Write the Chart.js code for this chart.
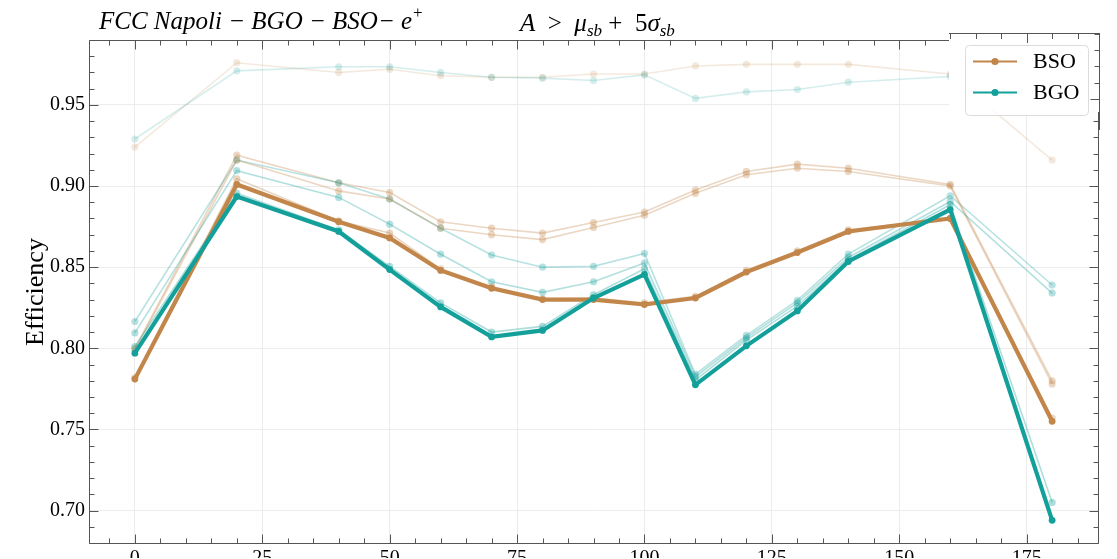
<!DOCTYPE html>
<html>
<head>
<meta charset="utf-8">
<script src="https://cdn.jsdelivr.net/npm/chart.js@4.4.1/dist/chart.umd.min.js"></script>
<style>
  html, body { margin: 0; padding: 0; background: #fff; }
  #wrap { width: 1117px; height: 559px; }
</style>
</head>
<body>
<div id="wrap"><canvas id="effChart" width="1117" height="559"></canvas></div>
<script>
// angle values on the x axis
const angles = [0, 20, 40, 50, 60, 70, 80, 90, 100, 110, 120, 130, 140, 160, 180];

// BSO, faint ones first, the bold one (A > mu + 5 sigma) last
const bso1 = [0.924, 0.976, 0.970, 0.972, 0.968, 0.967, 0.967, 0.969, 0.969, 0.974, 0.975, 0.975, 0.975, 0.969, 0.916];
const bso2 = [0.800, 0.919, 0.902, 0.896, 0.878, 0.874, 0.871, 0.8775, 0.884, 0.8975, 0.909, 0.9135, 0.911, 0.901, 0.780];
const bso3 = [0.799, 0.916, 0.897, 0.892, 0.874, 0.870, 0.867, 0.8745, 0.882, 0.8955, 0.907, 0.911, 0.909, 0.900, 0.778];
const bso4 = [0.782, 0.9045, 0.8785, 0.871, 0.849, 0.838, 0.8305, 0.831, 0.828, 0.832, 0.848, 0.860, 0.873, 0.880, 0.757];
const bso5 = [0.781, 0.901, 0.878, 0.868, 0.848, 0.837, 0.830, 0.830, 0.827, 0.831, 0.847, 0.859, 0.872, 0.880, 0.755];

// BGO
const bgo1 = [0.929, 0.971, 0.9735, 0.9735, 0.970, 0.967, 0.9665, 0.965, 0.9685, 0.954, 0.958, 0.9595, 0.964, 0.9675, 0.967];
const bgo2 = [0.8165, 0.916, 0.902, 0.892, 0.874, 0.8575, 0.850, 0.8505, 0.8585, 0.784, 0.808, 0.8295, 0.858, 0.894, 0.839];
const bgo3 = [0.8095, 0.9095, 0.893, 0.8765, 0.858, 0.841, 0.8345, 0.841, 0.8525, 0.7825, 0.8065, 0.828, 0.856, 0.8905, 0.834];
const bgo4 = [0.801, 0.8955, 0.873, 0.8505, 0.828, 0.810, 0.8135, 0.833, 0.849, 0.7805, 0.805, 0.826, 0.8545, 0.8885, 0.705];
const bgo5 = [0.797, 0.8935, 0.872, 0.8485, 0.8255, 0.807, 0.811, 0.831, 0.8455, 0.7775, 0.8015, 0.823, 0.8535, 0.8855, 0.694];

const xTicks = [0, 25, 50, 75, 100, 125, 150, 175];
const yTicks = [0.70, 0.75, 0.80, 0.85, 0.90, 0.95];
const yTickLabels = ['0.70', '0.75', '0.80', '0.85', '0.90', '0.95'];

const bsoRGB = '194, 134, 74';
const bgoRGB = '20, 160, 154';
const serif = '"Liberation Serif", "DejaVu Serif", serif';

function pts(vals) {
  return angles.map((a, i) => ({ x: a, y: vals[i] }));
}

function faint(label, vals, rgb, alpha, order) {
  return {
    label: label,
    data: pts(vals),
    borderColor: 'rgba(' + rgb + ',' + alpha + ')',
    backgroundColor: 'rgba(' + rgb + ',' + alpha + ')',
    borderWidth: 1.6,
    pointRadius: 3.6,
    pointBorderWidth: 0,
    tension: 0,
    order: order
  };
}

function bold(label, vals, rgb, order) {
  return {
    label: label,
    data: pts(vals),
    borderColor: 'rgb(' + rgb + ')',
    backgroundColor: 'rgb(' + rgb + ')',
    borderWidth: 4.2,
    pointRadius: 3.4,
    pointBorderWidth: 0,
    tension: 0,
    order: order
  };
}

const datasets = [
  bold('BGO', bgo5, bgoRGB, 0),
  bold('BSO', bso5, bsoRGB, 1),
  faint('BGO 4', bgo4, bgoRGB, 0.35, 2),
  faint('BSO 4', bso4, bsoRGB, 0.35, 3),
  faint('BGO 3', bgo3, bgoRGB, 0.32, 4),
  faint('BSO 3', bso3, bsoRGB, 0.33, 5),
  faint('BGO 2', bgo2, bgoRGB, 0.3, 6),
  faint('BSO 2', bso2, bsoRGB, 0.33, 7),
  faint('BGO 1', bgo1, bgoRGB, 0.18, 8),
  faint('BSO 1', bso1, bsoRGB, 0.18, 9)
];

// frame, inward ticks, legend and titles
const decor = {
  id: 'decor',
  afterDraw(chart) {
    const ctx = chart.ctx;
    const a = chart.chartArea;
    const xs = chart.scales.x, ys = chart.scales.y;
    const L = Math.round(a.left) + 0.5, R = Math.round(a.right) + 0.5;
    const T = Math.round(a.top) + 0.5, B = Math.round(a.bottom) + 0.5;
    ctx.save();

    // white patch over the top right corner (like the reference)
    ctx.fillStyle = '#fff';
    ctx.fillRect(949, 33, 152, 76);

    ctx.strokeStyle = '#555';
    ctx.lineWidth = 1;
    const line = (x1, y1, x2, y2) => { ctx.moveTo(x1, y1); ctx.lineTo(x2, y2); };
    ctx.beginPath();
    line(L, T, 949, T);
    line(L, T, L, B);
    line(L, B, R, B);
    line(R, 112, R, B);
    // shifted bit of frame above the legend
    line(949, 33.5, 1100, 33.5);
    line(1099.5, 33, 1099.5, 130);

    for (let v = -5; v <= 185; v += 5) {
      const px = Math.round(xs.getPixelForValue(v)) + 0.5;
      const len = v % 25 === 0 ? 9 : 5;
      line(px, B, px, B - len);
      if (px < 949) line(px, T, px, T + len);
      else line(px, 34, px, 34 + len);
    }
    for (let k = 68; k <= 99; k++) {
      const v = k / 100;
      const py = Math.round(ys.getPixelForValue(v)) + 0.5;
      const len = k % 5 === 0 ? 9 : 5;
      line(L, py, L + len, py);
      if (py > 112) line(R, py, R - len, py);
      else line(1099.5, py - 6, 1099.5 - len, py - 6);
    }
    ctx.stroke();

    // legend
    const lx = 965, ly = 45, lw = 123, lh = 70;
    ctx.beginPath();
    ctx.roundRect(lx + 0.5, ly + 0.5, lw, lh, 4);
    ctx.fillStyle = 'rgba(255,255,255,0.85)';
    ctx.fill();
    ctx.strokeStyle = '#dcdcdc';
    ctx.stroke();
    const entries = [['BSO', bsoRGB, 61.5], ['BGO', bgoRGB, 92.5]];
    ctx.font = '22px ' + serif;
    ctx.textBaseline = 'middle';
    ctx.textAlign = 'left';
    entries.forEach(e => {
      ctx.strokeStyle = 'rgb(' + e[1] + ')';
      ctx.fillStyle = 'rgb(' + e[1] + ')';
      ctx.lineWidth = 2;
      ctx.beginPath();
      ctx.moveTo(973, e[2]);
      ctx.lineTo(1017, e[2]);
      ctx.stroke();
      ctx.beginPath();
      ctx.arc(995, e[2], 3.6, 0, Math.PI * 2);
      ctx.fill();
      ctx.fillStyle = '#000';
      ctx.fillText(e[0], 1033, e[2] + 1);
    });

    // left title
    ctx.fillStyle = '#000';
    ctx.textBaseline = 'alphabetic';
    ctx.font = 'italic 25px ' + serif;
    let t = 'FCC Napoli \u2212 BGO \u2212 BSO\u2212 e';
    ctx.fillText(t, 99, 29);
    let w = ctx.measureText(t).width;
    ctx.font = '17px ' + serif;
    ctx.fillText('+', 99 + w + 1, 18);

    // right title: A > mu_sb + 5 sigma_sb
    let x = 520;
    const put = (s, font, dy) => {
      ctx.font = font;
      ctx.fillText(s, x, 31 + dy);
      x += ctx.measureText(s).width;
    };
    put('A', 'italic 25px ' + serif, 0);
    put('  >  ', '25px ' + serif, 0);
    put('\u03bc', 'italic 25px ' + serif, 0);
    put('sb', 'italic 17px ' + serif, 5);
    put(' +  5', '25px ' + serif, 0);
    put('\u03c3', 'italic 25px ' + serif, 0);
    put('sb', 'italic 17px ' + serif, 5);

    // y axis title
    ctx.save();
    ctx.translate(36, 292);
    ctx.rotate(-Math.PI / 2);
    ctx.textAlign = 'center';
    ctx.textBaseline = 'middle';
    ctx.font = '26px ' + serif;
    ctx.fillText('Efficiency', 0, 0);
    ctx.restore();

    ctx.restore();
  }
};

const ctx = document.getElementById('effChart').getContext('2d');
const effChart = new Chart(ctx, {
  type: 'line',
  data: { datasets: datasets },
  options: {
    responsive: false,
    animation: false,
    layout: { padding: { top: 40, right: 19, left: 0, bottom: 0 } },
    plugins: {
      legend: { display: false },
      title: { display: false },
      tooltip: { enabled: false }
    },
    scales: {
      x: {
        type: 'linear',
        min: -9,
        max: 189,
        afterBuildTicks: s => { s.ticks = xTicks.map(v => ({ value: v })); },
        afterFit: s => { s.height = 15; },
        grid: { color: '#ececec', lineWidth: 1, drawTicks: false },
        border: { display: false },
        ticks: {
          color: '#000',
          padding: 4,
          maxRotation: 0,
          autoSkip: false,
          font: { family: serif, size: 20 },
          callback: v => String(v)
        }
      },
      y: {
        type: 'linear',
        min: 0.68,
        max: 0.99,
        afterBuildTicks: s => { s.ticks = yTicks.map(v => ({ value: v })); },
        afterFit: s => { s.width = 89; },
        grid: { color: '#ececec', lineWidth: 1, drawTicks: false },
        border: { display: false },
        ticks: {
          color: '#000',
          padding: 4,
          autoSkip: false,
          font: { family: serif, size: 20 },
          callback: (v, i) => yTickLabels[i]
        }
      }
    }
  },
  plugins: [decor]
});
</script>
</body>
</html>
